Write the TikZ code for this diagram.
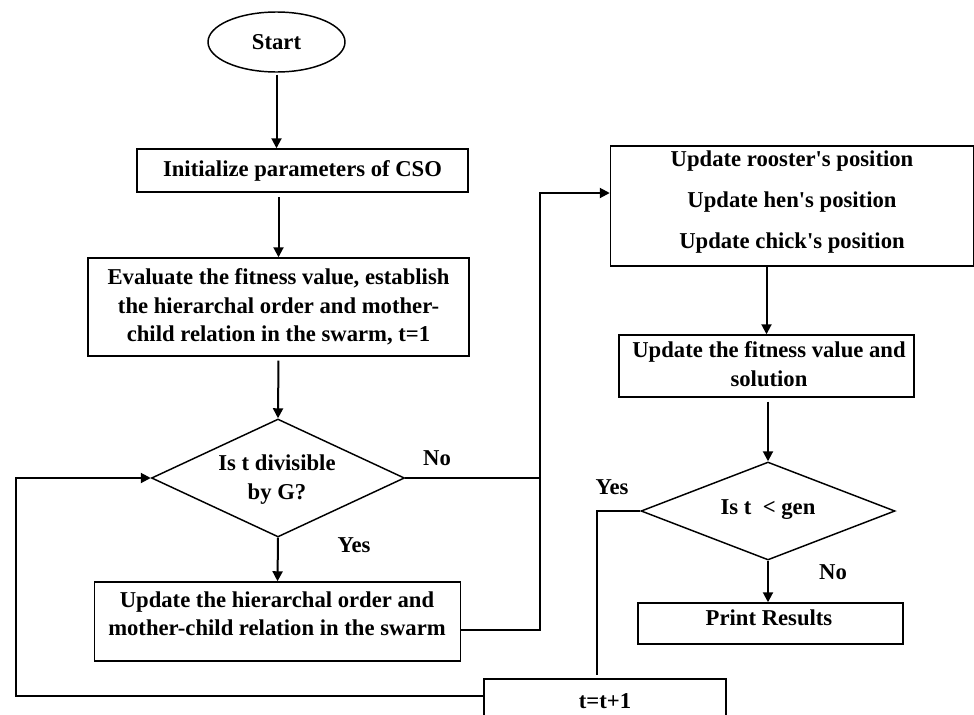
\documentclass[tikz,border=0pt]{standalone}
\usepackage{fontspec}
\newfontfamily\lser{Liberation Serif}
\usetikzlibrary{arrows.meta,shapes.geometric,calc}
\newcommand\pxl[1]{#1*0.75pt}
\begin{document}
\begin{tikzpicture}[x=0.75pt,y=-0.75pt,
  box/.style={draw, line width=1.1pt, rectangle, inner sep=0pt},
  txt/.style={font=\lser\bfseries\fontsize{17}{21.4}\selectfont, align=center, inner sep=0pt},
  conn/.style={line width=1.5pt},
  arr/.style={conn, -{Triangle[length=7.5pt,width=7.5pt]}}]
\useasboundingbox (0,0) rectangle (974,714);
\fill[white] (0,0) rectangle (974,714);
\clip (0,0) rectangle (974,714);

% nodes
\node[draw, ellipse, line width=1.1pt, inner sep=0pt, minimum width=\pxl{137}, minimum height=\pxl{60}, txt] (start) at (276.5,42) {Start};
\node[box, txt, minimum width=\pxl{331}, minimum height=\pxl{43}] (init) at (302.5,170.5) {Initialize parameters of CSO};
\node[box, txt, minimum width=\pxl{381}, minimum height=\pxl{98}] (eval) at (278.5,307) {Evaluate the fitness value, establish\\the hierarchal order and mother-\\child relation in the swarm, t=1};
\node[draw, diamond, line width=1.1pt, inner sep=0pt, minimum width=\pxl{253}, minimum height=\pxl{118}] (d1) at (278,478) {};
\node[txt] (d1t) at (277,479.5) {Is t divisible\\by G?};
\node[box, minimum width=\pxl{363}, minimum height=\pxl{120}] (pos) at (792,206) {};
\node[txt, font=\lser\bfseries\fontsize{17}{30.75}\selectfont] (post) at (792,202) {Update rooster's position\\Update hen's position\\Update chick's position};
\node[box, minimum width=\pxl{295}, minimum height=\pxl{62}] (fit) at (766.5,366) {};
\node[txt, font=\lser\bfseries\fontsize{17}{21.75}\selectfont] (fitt) at (769,364.5) {Update the fitness value and\\solution};
\node[draw, diamond, line width=1.1pt, inner sep=0pt, minimum width=\pxl{254}, minimum height=\pxl{98}] (d2) at (768,511) {};
\node[txt] (d2t) at (768,510) {Is t~~< gen};
\node[box, minimum width=\pxl{366}, minimum height=\pxl{79}] (hier) at (277.5,621.5) {};
\node[txt, font=\lser\bfseries\fontsize{17}{21}\selectfont] (hiert) at (277,614) {Update the hierarchal order and\\mother-child relation in the swarm};
\node[box, minimum width=\pxl{265}, minimum height=\pxl{41}] (print) at (770.5,623.5) {};
\node[txt] (printt) at (769,618) {Print Results};
\node[box, txt, minimum width=\pxl{242}, minimum height=\pxl{44}] (tbox) at (605,701) {t=t+1};

% labels
\node[txt] (no1) at (437,458) {No};
\node[txt] (yes1) at (354,545) {Yes};
\node[txt] (yes2) at (612,487) {Yes};
\node[txt] (no2) at (833,572) {No};

% helper coordinates
\coordinate (n1) at (540,193);
\coordinate (hj) at (540,630);
\coordinate (ty) at (597,675);
\coordinate (lc) at (16,696);

% connectors
\draw[arr, shorten <=1.5pt] (start.south) -- (start.south |- init.north);
\draw[arr, shorten <=3.5pt] (eval.north |- init.south) -- (eval.north);
\draw[arr, shorten <=3pt] (eval.south) -- (d1.north);
\draw[arr] (d1.south) -- (hier.north);
\draw[arr] (d1.east) -| (n1) -- (n1 -| pos.west);
\draw[conn] (hj -| hier.east) -- (hj) -- (hj |- d1.east);
\draw[arr] (fit.north |- pos.south) -- (fit.north);
\draw[arr, shorten <=3pt] (d2.north |- fit.south) -- (d2.north);
\draw[arr] (d2.south) -- (d2.south |- print.north);
\draw[conn] (d2.west) -| (ty);
\draw[arr] (tbox.west |- lc) -- (lc) |- (d1.west);
\end{tikzpicture}
\end{document}
